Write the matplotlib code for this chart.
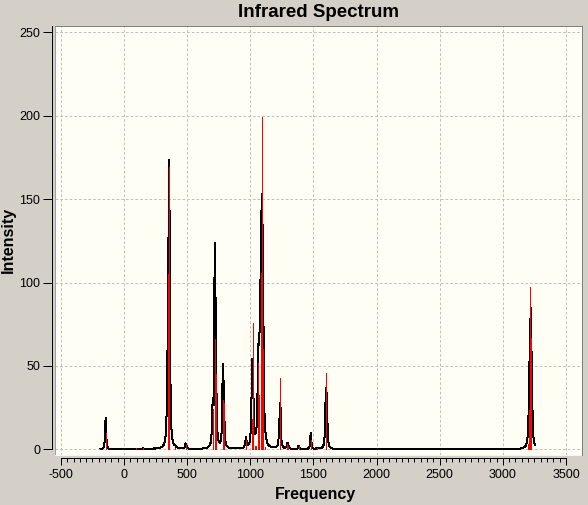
import numpy as np
import matplotlib
matplotlib.use("Agg")
import matplotlib.pyplot as plt
from matplotlib.ticker import FixedLocator

plt.rcParams["font.family"] = ["Liberation Sans", "DejaVu Sans"]
plt.rcParams["axes.unicode_minus"] = False

# -------------------------------
# stick spectrum (frequency, intensity)
# -------------------------------
freqs = [-147, -146, 92, 150, 235, 348, 359, 405, 488, 490,
         701, 719, 720, 726, 782, 783, 789, 962, 966,
         1012, 1018, 1035, 1047, 1063, 1071, 1082, 1091, 1102, 1104,
         1120, 1235, 1293, 1300, 1383, 1478, 1480, 1530, 1597, 1603,
         3203, 3210, 3218, 3226]
intens = [10.0, 9.6, 0.5, 0.6, 0.4, 105, 169, 1.0, 2.6, 2.5,
          24, 66, 64, 45, 29.5, 15, 28, 1.5, 5.5,
          18, 76, 2, 2, 51.5, 32.5, 106, 199, 60, 7,
          1.5, 43, 3, 2, 2, 5, 5.6, 1, 20, 46,
          3, 23.5, 97.5, 66.5]

x_ticks = list(range(-500, 3501, 500))
x_minor = list(range(-500, 3501, 50))
y_ticks = list(range(0, 251, 50))

# broadened spectrum from the sticks (lorentzian)
hwhm = 4.0
grid = np.arange(-186, 3255, 8)
f = np.array(freqs, dtype=float)
h = np.array(intens, dtype=float)
spectrum = (h[None, :] * hwhm**2 / ((grid[:, None] - f[None, :])**2 + hwhm**2)).sum(axis=1)

W, H = 588, 505
px = 0.72  # one pixel in points

fig = plt.figure(figsize=(W / 100, H / 100), dpi=100, facecolor="#D4D0C8")
ax = fig.add_axes([55 / W, (H - 455) / H, 527 / W, 429 / H])
ax.set_facecolor("#FEFEF4")

ax.plot(grid, spectrum, color="black", linewidth=px, antialiased=False, zorder=2)
ax.vlines(freqs, 0, intens, colors="red", linewidth=px, antialiased=False, zorder=3)

ax.set_xlim(-547, 3627)
ax.set_ylim(-3.4, 253.8)

ax.xaxis.set_major_locator(FixedLocator(x_ticks))
ax.xaxis.set_minor_locator(FixedLocator(x_minor))
ax.yaxis.set_major_locator(FixedLocator(y_ticks))

ax.set_axisbelow(True)
ax.grid(True, which="major", color="#C0C0C0", linewidth=px, linestyle=(0, (2.7, 2.0)))

for s in ["top", "right"]:
    ax.spines[s].set_color("#808080")
    ax.spines[s].set_linewidth(px)
ax.spines["left"].set_position(("outward", 1.9))
ax.spines["left"].set_bounds(0, 253.8)
ax.spines["bottom"].set_position(("outward", 2.2))
ax.spines["bottom"].set_bounds(-500, 3500)
for s in ["left", "bottom"]:
    ax.spines[s].set_color("black")
    ax.spines[s].set_linewidth(px)

# plot area edges on the left and bottom
ax.plot([0, 0], [0, 1], transform=ax.transAxes, color="#A0A0A0", linewidth=px, clip_on=False)
ax.plot([0, 1], [0, 0], transform=ax.transAxes, color="#F4F4F4", linewidth=px, clip_on=False)

ax.tick_params(axis="x", which="major", length=4.8, width=px, pad=3.2, labelsize=9)
ax.tick_params(axis="x", which="minor", length=2.9, width=px)
ax.tick_params(axis="y", which="major", length=6.2, width=px, pad=2.6, labelsize=9)

fig.text(318.5 / W, 1 - 16.7 / H, "Infrared Spectrum", ha="center", va="baseline",
         fontsize=13.5, fontweight="bold")
fig.text(315 / W, 1 - 499.3 / H, "Frequency", ha="center", va="baseline",
         fontsize=11.5, fontweight="bold")
fig.text(8 / W, 1 - 240 / H, "Intensity", rotation=90, ha="center", va="center",
         fontsize=11.5, fontweight="bold")

fig.savefig("out.png", dpi=100, facecolor=fig.get_facecolor())
plt.close()
